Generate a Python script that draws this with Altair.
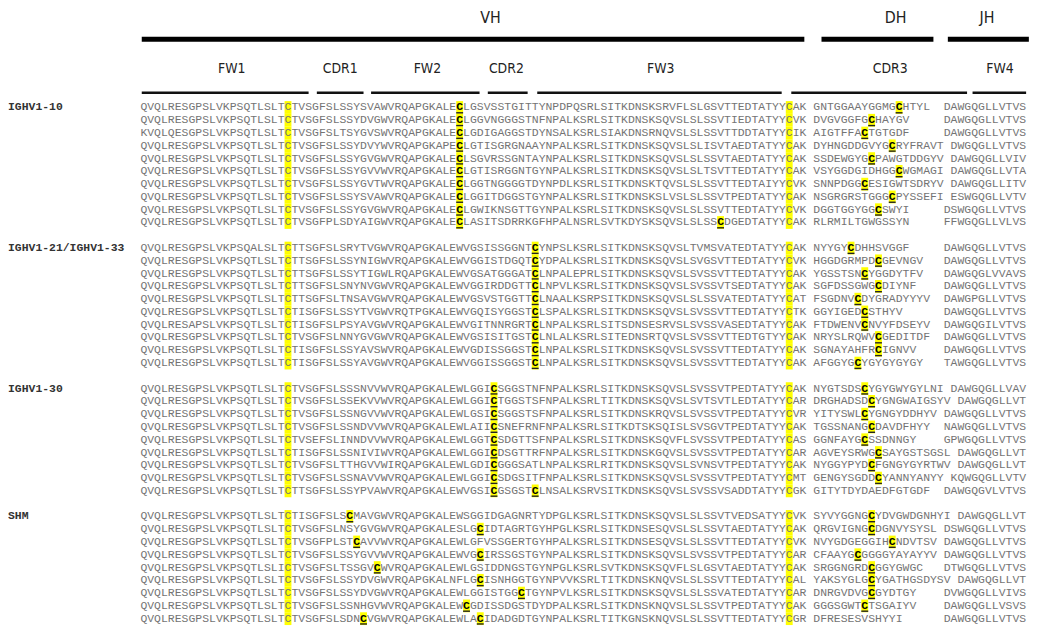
import altair as alt
import pandas as pd

# ---------------- data ----------------
GROUPS = ["IGHV1-10", "IGHV1-21/IGHV1-33", "IGHV1-30", "SHM"]

# each row: "VH CDR3 JH"; lowercase c = non-canonical cysteine (bold, highlighted)
IGHV1_10 = [
    "QVQLRESGPSLVKPSQTLSLTCTVSGFSLSSYSVAWVRQAPGKALEcLGSVSSTGITTYNPDPQSRLSITKDNSKSRVFLSLGSVTTEDTATYYCAK GNTGGAAYGGMGcHTYL DAWGQGLLVTVS",
    "QVQLRESGPSLVKPSQTLSLTCTVSGFSLSSYDVGWVRQAPGKALEcLGGVNGGGSTNFNPALKSRLSITKDNSKSQVSLSLSSVTIEDTATYYCVK DVGVGGFGcHAYGV DAWGQGLLVTVS",
    "KVQLQESGPSLVKPSQTLSLTCTVSGFSLTSYGVSWVRQAPGKALEcLGDIGAGGSTDYNSALKSRLSIAKDNSRNQVSLSLSSVTTDDTATYYCIK AIGTFFAcTGTGDF DAWGQGLLVTVS",
    "QVQLRESGPSLVKPSQTLSLTCTVSGFSLSSYDVYWVRQAPGKAPEcLGTISGRGNAAYNPALKSRLSITKDNSKSQVSLSLISVTAEDTATYYCAK DYHNGDDGVYGcRYFRAVT DWGQGLLVTVS",
    "QVQLRESGPSLVKPSQTLSLTCTVSGFSLSSYGVGWVRQAPGKALEcLSGVRSSGNTAYNPALKSRLSITKDNSKSQVSLSLSSVTAEDTATYYCAK SSDEWGYGcPAWGTDDGYV DAWGQGLLVIV",
    "QVQLRESGPSLVKPSQTLSLTCTVSGFSLSSYGVVWVRQAPGKALEcLGTISRGGNTGYNPALKSRLSITKDNSKSQVSLSLTSVTTEDTATYYCAK VSYGGDGIDHGGcWGMAGI DAWGQGLLVTA",
    "QVQLRESGPSLVKPSQTLSLTCTVSGFSLSSYGVTWVRQAPGKALEcLGGTNGGGGTDYNPDLKSRLSITKDNSKTQVSLSLSSVTTEDTAIYYCVK SNNPDGGcESIGWTSDRYV DAWGQGLLITV",
    "QVQLRESGPSLVKPSQTLSLTCTVSGFSLSSYSVAWVRQAPGKALEcLGGITDGGSTGYNPALKSRLSITKDNSKSLVSLSLSSVTPEDTATYYCAK NSGRGRSTGGGcPYSSEFI ESWGQGLLVTV",
    "QVQLRESGPSLVKPSQTLSLTCTVSGFSLSSYGVGWVRQAPGKALEcLGWIKNSGTTGYNPALKSRLSITKDNSKSQVSLSLSSVTTEDTATYYCVK DGGTGGYGGcSWYI DSWGQGLLVTVS",
    "QVQLRESGPSLVKPSQTLSLTCTVSGFPLSDYAIGWVRQAPGKALEcLASITSDRRKGFHPALNSRLSVTKDYSKSQVSLSLSScDGEDTATYYCAK RLRMILTGWGSSYN FFWGQGLLVLVS",
]
IGHV1_21_33 = [
    "QVQLRESGPSLVKPSQALSLTCTTSGFSLSRYTVGWVRQAPGKALEWVGSISSGGNTcYNPSLKSRLSITKDNSKSQVSLTVMSVATEDTATYYCAK NYYGYcDHHSVGGF DAWGQGLLVTVS",
    "QVQLRESGPSLVKPSQTLSLTCTTSGFSLSSYNIGWVRQAPGKALEWVGGISTDGQTcYDPALKSRLSITKDNSKSQVSLSVGSVTTEDTATYYCVK HGGDGRMPDcGEVNGV DAWGQGLLVTVS",
    "QVQLRESGPSLVKPSQTLSLTCTTSGFSLSSYTIGWLRQAPGKALEWVGSATGGGATcLNPALEPRLSITKDNSKSQVSLSVSSVTTEDTATYYCAK YGSSTSNcYGGDYTFV DAWGQGLVVAVS",
    "QVQLRESGPSLVKPSQTLSLTCTTSGFSLSNYNVGWVRQAPGKALEWVGGIRDDGTTcLNPVLKSRLSITKDNSKSQVSLSVSSVTSEDTATYYCAK SGFDSSGWGcDIYNF DAWGQGLLVTVS",
    "QVQLRESGPSLVKPSQTLSLTCTTSGFSLTNSAVGWVRQAPGKALEWVGSVSTGGTTcLNAALKSRPSITKDNSKSQVSLSLSSVATEDTATYYCAT FSGDNVcDYGRADYYYV DAWGPGLLVTVS",
    "QVQLRESGPSLVKPSQTLSLTCTISGFSLSSYTVGWVRQTPGKALEWVGQISYGGSTcLSPALKSRLSITKDNSKSQVSLSVSSVTTEDTATYYCTK GGYIGEDcSTHYV DAWGQGLLVTVS",
    "QVQLRESAPSLVKPSQTLSLTCTISGFSLPSYAVGWVRQAPGKALEWVGITNNRGRTcLNPALKSRLSITSDNSESRVSLSVSSVASEDTATYYCAK FTDWENVcNVYFDSEYV DAWGQGILVTVS",
    "QVQLRESGPSLVKPSQTLSLTCTVSGFSLNNYGVGWVRQAPGKALEWVGSISITGSTcLNLALKSRLSITEDNSRTQVSLSVSSVTTEDTGTYYCAK NRYSLRQWVcGEDITDF DAWGQGLLVTVS",
    "QVQLRESGPSLVKPSQTLSLTCTISGFSLSSYAVSWVRQAPGKALEWVGDISSGGSTcLNPALKSRLSITKDNSKSQVSLSVSSVTTEDTATYYCAK SGNAYAHFRcIGNVV DAWGQGLLVTVS",
    "QVQLRESGPSLVKPSQTLSLTCTISGFSLSSYAVGWVRQAPGKALEWVGGISSGGSTcLNPALKSRLSITKDNSKSQVSLSVSSVTTEDTATYYCAK AFGGYGcYGYGYGYGY TAWGQGLLVTVS",
]
IGHV1_30 = [
    "QVQLRESGPSLVKPSQTLSLTCTVSGFSLSSSNVVWVRQAPGKALEWLGGIcSGGSTNFNPALKSRLSITKDNSKSQVSLSVSSVTPEDTATYYCAK NYGTSDScYGYGWYGYLNI DAWGQGLLVAV",
    "QVQLRESGPSLVKPSQTLSLTCTVSGFSLSSEKVVWVRQAPGKALEWLGGIcTGGSTSFNPALKSRLTITKDNSKSQVSLSVTSVTLEDTATYYCAR DRGHADSDcYGNGWAIGSYV DAWGQGLLVT",
    "QVQLRESGPSLVKPSQTLSLTCTVSGFSLSSNGVVWVRQAPGKALEWLGSIcSGGSTSFNPALKSRLSITKDNSKRQVSLSVSSVTPEDTATYYCVR YITYSWLcYGNGYDDHYV DAWGQGLLVTVS",
    "QVQLRESGPSLVKPSQTLSLTCTVSGFSLSSNDVVWVRQAPGKALEWLAIIcSNEFRNFNPALKSRLSITKDTSKSQISLSVSGVTPEDTATYYCAK TGSSNANGcDAVDFHYY NAWGQGLLVTVS",
    "QVQLRESGPSLVKPSQTLSLTCTVSEFSLINNDVVWVRQAPGKALEWLGGTcSDGTTSFNPALKSRLSITKDNSKSQVFLSVSSVTPEDTATYYCAS GGNFAYGcSSDNNGY GPWGQGLLVTVS",
    "QVQLRESGPSLVKPSQTLSLTCTISGFSLSSNIVIWVRQAPGKALEWLGGIcDSGTTRFNPALKSRLSITKDNSKGQVSLSVSSVTPEDTATYYCAR AGVEYSRWGcSAYGSTSGSL DAWGQGLLVT",
    "QVQLRESGPSLVKPSQTLSLTCTVSGFSLTTHGVVWIRQAPGKALEWLGDIcGGGSATLNPALKSRLRITKDNSKSQVSLSVNSVTPEDTATYYCAK NYGGYPYDcFGNGYGYRTWV DAWGQGLLVT",
    "QVQLRESGPSLVKPSQTLSLTCTVSGFSLSSNAVVWVRQAPGKALEWLGGIcSDGSITFNPALKSRLSITKDNSKSQVSLSVSSVTPEDTATYYCMT GENGYSGDDcYANNYANYY KQWGQGLLVTV",
    "QVQLRESGPSLVKPSQTLSLTCTTSGFSLSSYPVAWVRQAPGKALEWVGSIcGSGSTcLNSALKSRVSITKDNSKSQVSLSVSSVSADDTATYYCGK GITYTDYDAEDFGTGDF DAWGQGVLVTVS",
]
SHM = [
    "QVQLRESGPSLVKPSQTLSLTCTISGFSLScMAVGWVRQAPGKALEWSGGIDGAGNRTYDPGLKSRLSITKDNSKSQVSLSLSSVTVEDSATYYCVK SYVYGGNGcYDVGWDGNHYI DAWGQGLLVT",
    "QVQLRESGPSLVKPSQTLSLTCTVSGFSLNSYGVGWVRQAPGKALESLGcIDTAGRTGYHPGLKSRLSITKDNSESQVSLSLSSVTAEDTATYYCAK QRGVIGNGcDGNVYSYSL DSWGQGLLVTVS",
    "QVQLRESGPSLVKPSQTLSLTCTVSGFPLSTcAVVWVRQAPGKALEWLGFVSSGERTGYHPALKSRLSITKDNSESQVSLSLSSVTTEDTATYYCVK NVYGDGEGGIHcNDVTSV DAWGQGLLVTVS",
    "QVQLRESGPSLVKPSQTLSLTCTVSGFSLSSYGVVWVRQAPGKALEWVGcIRSSGSTGYNPALKSRLSITKDNSKSQVSLSVSSVTPEDTATYYCAR CFAAYGcGGGGYAYAYYV DAWGQGLLVTVS",
    "QVQLRESGPSLVKPSQTLSLICTVSGFSLTSSGVcWVRQAPGKALEWLGSIDDNGSTGYNPGLKSRLSVTKDNSKSQVFLSLGSVTAEDTATYYCAK SRGGNGRDcGGYGWGC DTWGQGLLVTVS",
    "QVQLRESGPSLVKPSQTLSLTCTVSGFSLSSYDVGWVRQAPGKALNFLGcISNHGGTGYNPVVKSRLTITKDNSKNQVSLSLSSVTTEDTATYYCAL YAKSYGLGcYGATHGSDYSV DAWGQGLLVT",
    "QVQLRESGPSLVKPSQTLSLTCTVSGFSLSSYDVGWVRQAPGKALEWLGGISTGGcTGYNPVLKSRLSITKDNSKSQVSLSLSSVATEDTATYYCAR DNRGVDVGcGYDTGY DVWGQGLLVIVS",
    "QVQLRESGPSLVKPSQTLSLTCTVSGFSLSSNHGVWVRQAPGKALEWcGDISSDGSTDYDPALKSRLSITKDNSKNQVSLSLSSVTPEDTATYYCAK GGGSGWTcTSGAIYV DAWGQGLLVSVS",
    "QVQLRESGPSLVKPSQTLSLTCTVSGFSLSDNcVGWVRQAPGKALEWLAcIDADGDTGYNPALKSRLTITKGNSKNQVSLSLSSVTTEDTATYYCGR DFRESESVSHYYI DAWGQGLLVTVS",
]
GROUP_ROWS = [IGHV1_10, IGHV1_21_33, IGHV1_30, SHM]

CONSERVED = [21, 94]          # canonical Cys columns

REGION_NAMES = ["FW1", "CDR1", "FW2", "CDR2", "FW3", "CDR3", "FW4"]
REGION_START = [0.2, 25.7, 33.6, 50.6, 57.8, 94.8, 121.2]
REGION_END = [24.5, 32.5, 49.4, 56.4, 93.4, 120.4, 129.0]
REGION_LABEL_AT = [13.3, 29.1, 41.8, 53.3, 75.8, 109.2, 125.2]

SEGMENT_NAMES = ["VH", "DH", "JH"]
SEGMENT_START = [0.2, 99.2, 117.6]
SEGMENT_END = [96.7, 115.5, 129.4]
SEGMENT_LABEL_AT = [51.0, 110.0, 123.3]

# ---------------- build tables ----------------
MAXPOS = 128
chars, labels = [], []
line = 0
for name, rows in zip(GROUPS, GROUP_ROWS):
    labels.append({"line": line, "label": name})
    for r in rows:
        vh, cdr3, jh = r.split(" ")
        jh_start = max(117, len(vh) + 1 + len(cdr3) + 1)
        parts = [(0, vh), (len(vh) + 1, cdr3), (jh_start, jh)]
        for start, s in parts:
            for i, ch in enumerate(s):
                pos = start + i
                if pos > MAXPOS:
                    continue
                if ch == "c":
                    kind, ch = "mark", "C"
                elif ch == "C" and pos in CONSERVED and start == 0:
                    kind = "cons"
                else:
                    kind = "plain"
                chars.append({"line": line, "pos": pos, "xc": pos + 0.5,
                              "x2": pos + 1, "ch": ch, "kind": kind,
                              "ytop": line - 0.5, "ybot": line + 0.5,
                              "u1": line + 0.36, "u2": line + 0.47})
        line += 1
    line += 1

df = pd.DataFrame(chars)
df_lab = pd.DataFrame(labels)
df_reg = pd.DataFrame({"name": REGION_NAMES, "s": REGION_START, "e": REGION_END,
                       "m": REGION_LABEL_AT})
df_seg = pd.DataFrame({"name": SEGMENT_NAMES, "s": SEGMENT_START, "e": SEGMENT_END,
                       "m": SEGMENT_LABEL_AT})

# ---------------- scales ----------------
W, H = 1032, 620
CW = 6.94            # px per residue
X0 = 133.8           # chart px of residue 0
PITCH = 12.9
Y0 = 98.0            # chart px of line 0
xs = alt.Scale(domain=[-X0 / CW, (W - X0) / CW], nice=False, zero=False)
ys = alt.Scale(domain=[-Y0 / PITCH, (H - Y0) / PITCH], nice=False, zero=False, reverse=True)

MONO = "Liberation Mono, Courier New, monospace"
SANS = "Liberation Sans Narrow, DejaVu Sans Condensed, Arial Narrow, sans-serif"

base = alt.Chart(df)

hl = base.mark_rect(color="#FFFF00", opacity=1).encode(
    x=alt.X("pos:Q", scale=xs, axis=None), x2="x2:Q",
    y=alt.Y("ytop:Q", scale=ys, axis=None), y2="ybot:Q",
).transform_filter("datum.kind != 'plain'")

ul = base.mark_rect(color="#222222").encode(
    x=alt.X("pos:Q", scale=xs, axis=None), x2="x2:Q",
    y=alt.Y("u1:Q", scale=ys, axis=None), y2="u2:Q",
).transform_filter("datum.kind == 'mark'")

txt_plain = base.mark_text(font=MONO, fontSize=11.5, color="#747474",
                           align="center", baseline="middle").encode(
    x=alt.X("xc:Q", scale=xs, axis=None),
    y=alt.Y("line:Q", scale=ys, axis=None),
    text="ch:N",
).transform_filter("datum.kind != 'mark'")

txt_mark = base.mark_text(font=MONO, fontSize=11.5, fontWeight="bold", color="#000000",
                          align="center", baseline="middle").encode(
    x=alt.X("xc:Q", scale=xs, axis=None),
    y=alt.Y("line:Q", scale=ys, axis=None),
    text="ch:N",
).transform_filter("datum.kind == 'mark'")

lab = alt.Chart(df_lab).mark_text(font=MONO, fontSize=11.5, fontWeight="bold", color="#333333",
                                  align="left", baseline="middle").encode(
    x=alt.value(0),
    y=alt.Y("line:Q", scale=ys, axis=None),
    text="label:N",
)

reg_lines = alt.Chart(df_reg).mark_rule(color="#111111", strokeWidth=2.5).encode(
    x=alt.X("s:Q", scale=xs, axis=None), x2="e:Q", y=alt.value(83),
)
reg_text = alt.Chart(df_reg).mark_text(font=SANS, fontSize=14, color="#222222",
                                       align="center", baseline="middle").encode(
    x=alt.X("m:Q", scale=xs, axis=None), y=alt.value(59), text="name:N",
)
seg_lines = alt.Chart(df_seg).mark_rule(color="#000000", strokeWidth=5).encode(
    x=alt.X("s:Q", scale=xs, axis=None), x2="e:Q", y=alt.value(29),
)
seg_text = alt.Chart(df_seg).mark_text(font=SANS, fontSize=16, color="#222222",
                                       align="center", baseline="middle").encode(
    x=alt.X("m:Q", scale=xs, axis=None), y=alt.value(8), text="name:N",
)

chart = alt.layer(hl, ul, txt_plain, txt_mark, lab, reg_lines, reg_text, seg_lines, seg_text).properties(
    width=W, height=H,
    autosize=alt.AutoSizeParams(type="fit", contains="padding"),
    padding=0,
).configure_view(stroke=None)

chart.save("out.html", embed_options={"renderer": "svg", "actions": False})
